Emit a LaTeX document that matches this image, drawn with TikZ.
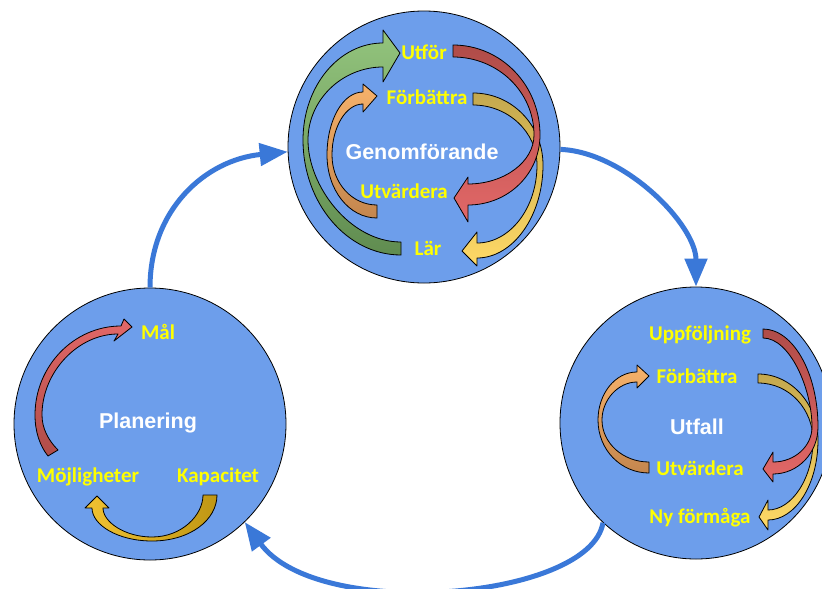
\documentclass[tikz,border=0pt]{standalone}
\usepackage{fontspec}
\newfontfamily\carlito{Carlito}
\newfontfamily\libsans{Liberation Sans}
\usetikzlibrary{arrows.meta}
\definecolor{circblue}{RGB}{109,158,235}
\definecolor{connblue}{RGB}{58,120,216}
\definecolor{labyellow}{RGB}{255,255,0}
\definecolor{gL}{RGB}{147,196,125}
\definecolor{gD}{RGB}{96,140,80}
\definecolor{oL}{RGB}{246,178,107}
\definecolor{oD}{RGB}{196,134,78}
\definecolor{rD}{RGB}{176,76,72}
\definecolor{rL}{RGB}{226,104,104}
\definecolor{yD}{RGB}{196,168,78}
\definecolor{yL}{RGB}{255,217,102}
\definecolor{goldL}{RGB}{241,194,50}
\definecolor{goldD}{RGB}{191,150,20}
\begin{document}
\begin{tikzpicture}[x=1pt,y=-1pt,
  bigcirc/.style={circle, draw=black, line width=0.8pt, fill=circblue, minimum size=272pt, inner sep=0pt},
  conn/.style={draw=connblue, line width=5pt, -{Triangle[length=28pt,width=22pt]}},
  rib/.style={draw=black, line width=0.8pt, line join=round},
  ylab/.style={text=labyellow, font=\carlito\bfseries\fontsize{21}{21}\selectfont, inner sep=0pt},
  wlab/.style={text=white, font=\libsans\bfseries\fontsize{21.5}{21.5}\selectfont, inner sep=0pt}]
\useasboundingbox (0,0) rectangle (822,589);
\clip (0,0) rectangle (822,589);
\fill[white] (0,0) rectangle (822,589);

% circles
\node[bigcirc] (gen) at (424,147) {};
\node[bigcirc] (pl) at (150,424) {};
\node[bigcirc] (ut) at (696,423) {};

% top circle ribbons
\shadedraw[rib, top color=gL, bottom color=gD] (383,43) .. controls (339,43) and (303,86) .. (303,140) .. controls (303,203) and (347,255) .. (401,255) -- (401,242) .. controls (350,242) and (308,186) .. (308,140) .. controls (308,100) and (342,67) .. (383,67) -- (383,82) -- (400,53) -- (383,30) -- cycle;
\shadedraw[rib, top color=oL, bottom color=oD] (363,92) .. controls (343,92) and (327,120) .. (327,155) .. controls (327,190) and (349,218) .. (377,218) -- (377,205) .. controls (352,205) and (332,183) .. (332,155) .. controls (332,127) and (346,104) .. (363,104) -- (363,112) -- (377,96) -- (363,84) -- cycle;
\shadedraw[rib, top color=yD, bottom color=yL] (473,93) .. controls (512,93) and (543,125) .. (543,165) .. controls (543,216) and (513,258) .. (477,258) -- (477,266) -- (462,251) -- (477,232) -- (477,243) .. controls (510,243) and (537,208) .. (537,165) .. controls (537,132) and (508,105) .. (473,105) -- cycle;
\shadedraw[rib, top color=rD, bottom color=rL] (453,45) .. controls (501,45) and (540,85) .. (540,135) .. controls (540,174) and (508,205) .. (468,205) -- (468,222) -- (454,198) -- (468,177) -- (468,184) .. controls (504,184) and (534,162) .. (534,135) .. controls (534,92) and (498,57) .. (453,57) -- cycle;

% left circle ribbons
\shadedraw[rib, top color=rL, bottom color=rD] (121,326) .. controls (74,326) and (35,366) .. (35,415) .. controls (35,432) and (40,446) .. (48,456) -- (58,450) .. controls (48,440) and (42,428) .. (42,415) .. controls (42,372) and (78,334) .. (118,334) -- (114,341) -- (132,327) -- (124,319) -- cycle;
\shadedraw[rib, left color=goldL, right color=goldD] (217,495) .. controls (217,520) and (190,541) .. (152,541) .. controls (118,541) and (92,525) .. (92,508) -- (85,508) -- (97,496) -- (109,508) -- (103,508) .. controls (103,522) and (125,537) .. (152,537) .. controls (182,537) and (203,515) .. (203,495) -- cycle;

% right circle ribbons
\shadedraw[rib, top color=yD, bottom color=yL] (758,374) .. controls (792,374) and (818,405) .. (818,440) .. controls (818,485) and (795,520) .. (768,520) -- (768,530) -- (759,517) -- (768,500) -- (768,510) .. controls (792,510) and (813,478) .. (813,440) .. controls (813,410) and (790,383) .. (758,383) -- cycle;
\shadedraw[rib, top color=rD, bottom color=rL] (763,329) .. controls (793,329) and (818,373) .. (818,427) .. controls (818,453) and (798,474) .. (773,474) -- (773,482) -- (763,469) -- (773,452) -- (773,462) .. controls (795,462) and (812,446) .. (812,427) .. controls (812,389) and (790,338) .. (763,338) -- cycle;
\shadedraw[rib, top color=oL, bottom color=oD] (637,372) .. controls (615,372) and (598,394) .. (598,420) .. controls (598,450) and (621,473) .. (649,473) -- (649,462) .. controls (623,462) and (602,443) .. (602,420) .. controls (602,400) and (618,382) .. (637,382) -- (637,388) -- (649,376) -- (637,365) -- cycle;

% labels
\node[ylab] (g1) at (424,52) {Utför};
\node[ylab] (g2) at (427,97) {Förbättra};
\node[wlab] (g0) at (422,152) {Genomförande};
\node[ylab] (g3) at (404,191) {Utvärdera};
\node[ylab] (g4) at (428,248) {Lär};

\node[ylab] (p1) at (158,332) {Mål};
\node[wlab] (p0) at (148,423) {Planering};
\node[ylab] (p2) at (88,477) {Möjligheter};
\node[ylab] (p3) at (218,477) {Kapacitet};

\node[ylab] (u1) at (700,335) {Uppföljning};
\node[ylab] (u2) at (697,376) {Förbättra};
\node[wlab] (u0) at (697,427) {Utfall};
\node[ylab] (u3) at (700,468) {Utvärdera};
\node[ylab] (u4) at (700,518) {Ny förmåga};

% connectors
\draw[conn] (pl.north) .. controls (150,210) and (205,160) .. (gen.182);
\draw[conn] (gen.359) .. controls (625,152) and (696,225) .. (ut.north);
\draw[conn] (ut.227) .. controls (590,600) and (318,622) .. (pl.314);
\end{tikzpicture}
\end{document}
